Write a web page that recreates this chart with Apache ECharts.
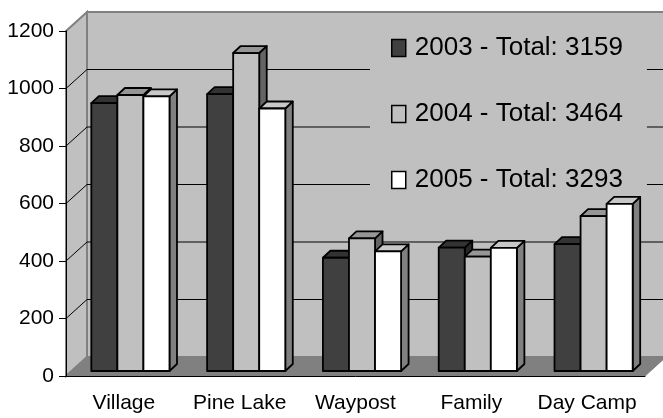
<!DOCTYPE html>
<html>
<head>
<meta charset="utf-8">
<script src="https://cdn.jsdelivr.net/npm/echarts@6/dist/echarts.min.js"></script>
<style>
html, body { margin: 0; padding: 0; background: #fff; }
#chart { width: 663px; height: 418px; }
</style>
</head>
<body>
<div id="chart"></div>
<script>
// data
const categories = ['Village', 'Pine Lake', 'Waypost', 'Family', 'Day Camp']
const years = ['2003', '2004', '2005']
const values2003 = [932, 963, 394, 429, 441]
const values2004 = [960, 1106, 461, 398, 539]
const values2005 = [955, 913, 416, 428, 581]
const yTicks = [0, 200, 400, 600, 800, 1000, 1200]

// fake 3d look
const WALL_DX = 21
const WALL_DY = -19
const BAR_DX = 6.5
const BAR_DY = -5
const DEPTH_X = 7.5
const DEPTH_Y = 7
const BAR_FRAC = 0.225

const barColors = [
  { front: '#404040', top: '#333333', side: '#262626' },
  { front: '#c0c0c0', top: '#969696', side: '#646464' },
  { front: '#ffffff', top: '#c8c8c8', side: '#808080' }
]

const chart = echarts.init(document.getElementById('chart'))

function total(arr) {
  return arr.reduce((a, b) => a + b, 0)
}

function barSeries(name, values, idx) {
  const c = barColors[idx]
  return {
    name: name,
    type: 'custom',
    z: 5,
    itemStyle: { color: c.front, borderColor: '#000', borderWidth: 1.5 },
    encode: { x: 0, y: 1 },
    data: values.map((v, i) => [i, v]),
    renderItem(params, api) {
      const band = api.size([1, 0])[0]
      const w = band * BAR_FRAC
      const top = api.coord([api.value(0), api.value(1)])
      const base = api.coord([api.value(0), 0])
      const xl = top[0] + (idx - 1.5) * w + BAR_DX
      const xr = xl + w
      const yt = top[1] + BAR_DY
      const yb = base[1] + BAR_DY
      const line = { stroke: '#000', lineWidth: 1.8, lineJoin: 'round' }
      return {
        type: 'group',
        children: [
          {
            type: 'polygon',
            shape: { points: [[xr, yt], [xr + DEPTH_X, yt - DEPTH_Y], [xr + DEPTH_X, yb - DEPTH_Y], [xr, yb]] },
            style: Object.assign({ fill: c.side }, line)
          },
          {
            type: 'polygon',
            shape: { points: [[xl, yt], [xr, yt], [xr + DEPTH_X, yt - DEPTH_Y], [xl + DEPTH_X, yt - DEPTH_Y]] },
            style: Object.assign({ fill: c.top }, line)
          },
          {
            type: 'rect',
            shape: { x: xl, y: yt, width: w, height: yb - yt },
            style: Object.assign({ fill: c.front }, line)
          }
        ]
      }
    }
  }
}

const option = {
  backgroundColor: '#fff',
  animation: false,
  grid: { left: 66, right: 18, top: 31, bottom: 42 },
  legend: {
    data: years,
    orient: 'vertical',
    left: 370,
    top: 26,
    padding: [4, 24, 2, 21],
    backgroundColor: '#c0c0c0',
    itemWidth: 14,
    itemHeight: 17,
    itemGap: 30,
    icon: 'rect',
    itemStyle: { borderColor: '#000', borderWidth: 1.5 },
    textStyle: {
      fontFamily: '"Liberation Sans", Arial, sans-serif',
      fontSize: 26,
      lineHeight: 36,
      padding: [0, 0, 0, 4],
      color: '#000'
    },
    formatter: function (name) {
      const arr = [values2003, values2004, values2005][years.indexOf(name)]
      return name + ' - Total: ' + total(arr)
    }
  },
  xAxis: {
    type: 'category',
    data: categories,
    z: 10,
    axisLine: { lineStyle: { color: '#000', width: 1 } },
    axisTick: { length: 7, lineStyle: { color: '#000' } },
    axisLabel: {
      interval: 0,
      color: '#000',
      fontSize: 21,
      margin: 17,
      fontFamily: '"Liberation Sans", Arial, sans-serif'
    }
  },
  yAxis: {
    type: 'value',
    min: 0,
    max: 1200,
    interval: 200,
    z: 10,
    axisLine: { show: true, lineStyle: { color: '#000', width: 1 } },
    axisTick: { show: true, length: 7, lineStyle: { color: '#000' } },
    splitLine: { show: false },
    axisLabel: {
      color: '#000',
      fontSize: 21,
      margin: 12,
      formatter: v => String(v),
      fontFamily: '"Liberation Sans", Arial, sans-serif'
    }
  },
  series: [
    {
      // walls and floor
      type: 'custom',
      z: 1,
      silent: true,
      data: [[0, 0]],
      renderItem(params, api) {
        const cs = params.coordSys
        const x0 = cs.x, x1 = cs.x + cs.width
        const y0 = cs.y, y1 = cs.y + cs.height
        return {
          type: 'group',
          children: [
            {
              type: 'polygon',
              shape: { points: [[x0 + WALL_DX, y0 + WALL_DY], [x1 + WALL_DX + 10, y0 + WALL_DY], [x1 + WALL_DX + 10, y1 + WALL_DY], [x0 + WALL_DX, y1 + WALL_DY]] },
              style: { fill: '#c0c0c0', stroke: '#808080', lineWidth: 2 }
            },
            {
              type: 'polygon',
              shape: { points: [[x0, y0], [x0 + WALL_DX, y0 + WALL_DY], [x0 + WALL_DX, y1 + WALL_DY], [x0, y1]] },
              style: { fill: '#c0c0c0', stroke: '#808080', lineWidth: 2 }
            },
            {
              type: 'polygon',
              shape: { points: [[x0, y1], [x1, y1], [x1 + WALL_DX, y1 + WALL_DY], [x0 + WALL_DX, y1 + WALL_DY]] },
              style: { fill: '#808080', stroke: '#808080', lineWidth: 1 }
            }
          ]
        }
      }
    },
    {
      // gridlines on the back and side wall
      type: 'custom',
      z: 2,
      silent: true,
      data: yTicks.filter(v => v > 0 && v < 1200).map(v => [0, v]),
      encode: { y: 1 },
      renderItem(params, api) {
        const cs = params.coordSys
        const x0 = cs.x, x1 = cs.x + cs.width
        const y = api.coord([0, api.value(1)])[1]
        const st = { stroke: '#000', lineWidth: 1 }
        return {
          type: 'group',
          children: [
            { type: 'line', shape: { x1: x0, y1: y, x2: x0 + WALL_DX, y2: y + WALL_DY }, style: st },
            { type: 'line', shape: { x1: x0 + WALL_DX, y1: y + WALL_DY, x2: x1 + WALL_DX + 10, y2: y + WALL_DY }, style: st }
          ]
        }
      }
    },
    barSeries('2003', values2003, 0),
    barSeries('2004', values2004, 1),
    barSeries('2005', values2005, 2)
  ]
}

chart.setOption(option)
</script>
</body>
</html>
